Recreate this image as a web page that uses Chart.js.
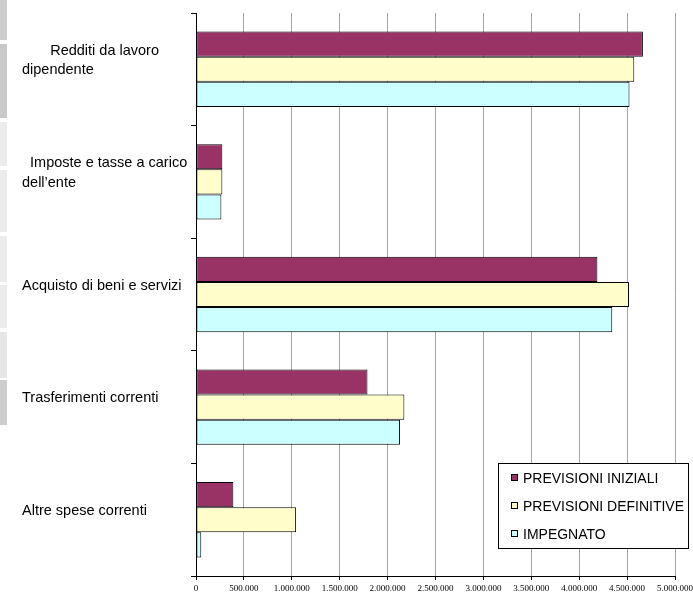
<!DOCTYPE html>
<html>
<head>
<meta charset="utf-8">
<script src="https://cdn.jsdelivr.net/npm/chart.js@4.4.1/dist/chart.umd.min.js"></script>
<style>
  html, body { margin: 0; padding: 0; background: #fff; }
  #wrap { position: relative; width: 693px; height: 593px; }
  #wrap canvas { position: absolute; left: 0; top: 0; }
  .strip { position: absolute; left: 0; width: 7px; }
</style>
</head>
<body>
<div id="wrap">
  <div class="strip" style="top:0;height:40px;background:#cdcdcd"></div>
  <div class="strip" style="top:44px;height:74px;background:#c9c9c9"></div>
  <div class="strip" style="top:122px;height:44px;background:#ececec"></div>
  <div class="strip" style="top:170px;height:62px;background:#ececec"></div>
  <div class="strip" style="top:236px;height:46px;background:#ececec"></div>
  <div class="strip" style="top:285px;height:43px;background:#ececec"></div>
  <div class="strip" style="top:332px;height:46px;background:#e6e6e6"></div>
  <div class="strip" style="top:380px;height:45px;background:#cdcdcd"></div>
  <canvas id="chart" width="693" height="593"></canvas>
</div>
<script>
// categories (leading spaces mimic the original label layout)
const categories = [
  ['       Redditi da lavoro', 'dipendente'],
  ['  Imposte e tasse a carico', 'dell\u2019ente'],
  'Acquisto di beni e servizi',
  'Trasferimenti correnti',
  'Altre spese correnti'
];

// series values (euro)
const previsioniIniziali   = [4665000, 275000, 4190000, 1790000, 390000];
const previsioniDefinitive = [4575000, 275000, 4520000, 2175000, 1045000];
const impegnato            = [4525000, 265000, 4345000, 2130000, 55000];

const seriesNames = ['PREVISIONI INIZIALI', 'PREVISIONI DEFINITIVE', 'IMPEGNATO'];

function formatIt(v) {
  return String(Math.round(v)).replace(/\B(?=(\d{3})+(?!\d))/g, '.');
}

// legend drawn as a framed box like the original
const boxLegend = {
  id: 'boxLegend',
  afterDraw(chart) {
    const ctx = chart.ctx;
    const x = 498, y = 463, w = 190, h = 85;
    ctx.save();
    ctx.fillStyle = '#fff';
    ctx.fillRect(x, y, w, h);
    ctx.strokeStyle = '#000';
    ctx.lineWidth = 1;
    ctx.strokeRect(x + 0.5, y + 0.5, w, h);
    ctx.font = '14px "Liberation Sans", Arial, sans-serif';
    ctx.textBaseline = 'middle';
    chart.data.datasets.forEach((ds, i) => {
      const cy = y + 15 + i * 28;
      ctx.fillStyle = ds.backgroundColor;
      ctx.fillRect(x + 13, cy - 4, 7, 7);
      ctx.strokeRect(x + 13.5, cy - 3.5, 6, 6);
      ctx.fillStyle = '#000';
      ctx.fillText(ds.label, x + 25, cy + 1);
    });
    ctx.restore();
  }
};

const ctx = document.getElementById('chart').getContext('2d');
new Chart(ctx, {
  type: 'bar',
  data: {
    labels: categories,
    datasets: [
      { label: seriesNames[0], data: previsioniIniziali, backgroundColor: '#993366' },
      { label: seriesNames[1], data: previsioniDefinitive, backgroundColor: '#FFFFCC' },
      { label: seriesNames[2], data: impegnato, backgroundColor: '#CCFFFF' }
    ]
  },
  options: {
    indexAxis: 'y',
    responsive: false,
    animation: false,
    datasets: {
      bar: {
        borderColor: '#000',
        borderWidth: 1,
        borderSkipped: false,
        categoryPercentage: 0.67,
        barPercentage: 1
      }
    },
    layout: { padding: { left: 22, top: 13, right: 18, bottom: 0 } },
    plugins: {
      legend: { display: false },
      tooltip: { enabled: false }
    },
    scales: {
      x: {
        min: 0,
        max: 5000000,
        afterFit(scale) {
          scale.height = 17;
          scale.paddingLeft = 0;
          scale.paddingRight = 0;
        },
        ticks: {
          stepSize: 500000,
          maxRotation: 0,
          autoSkip: false,
          padding: 3,
          color: '#000',
          font: { family: '"Liberation Serif", "Times New Roman", serif', size: 9 },
          callback: v => formatIt(v)
        },
        grid: { color: '#a6a6a6', tickColor: '#000', tickLength: 4 },
        border: { color: '#000' }
      },
      y: {
        afterFit(scale) {
          scale.width = 174;
          scale.paddingTop = 0;
          scale.paddingBottom = 0;
        },
        ticks: {
          crossAlign: 'far',
          labelOffset: -9,
          color: '#000',
          font: { family: '"Liberation Sans", Arial, sans-serif', size: 14.5, lineHeight: 1.35 }
        },
        grid: { drawOnChartArea: false, color: '#000', tickLength: 5 },
        border: { color: '#000' }
      }
    }
  },
  plugins: [boxLegend]
});
</script>
</body>
</html>
